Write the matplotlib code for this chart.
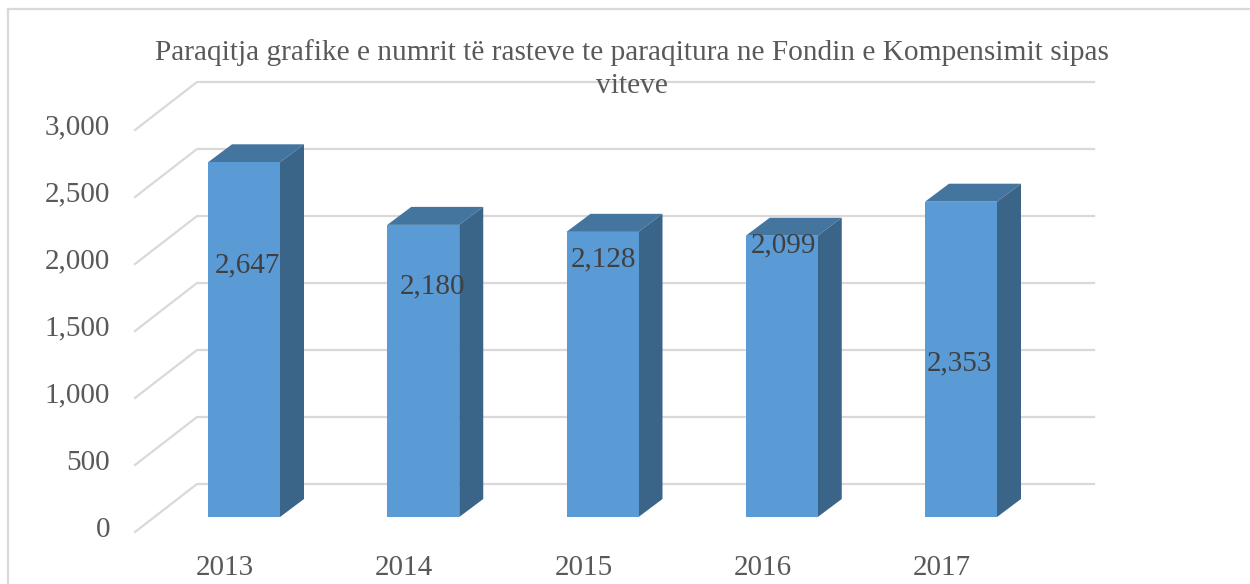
import matplotlib
matplotlib.use('Agg')
import matplotlib.pyplot as plt
from matplotlib.patches import Polygon

YEARS = ['2013', '2014', '2015', '2016', '2017']
CASES = [2647, 2180, 2128, 2099, 2353]
TICKS = [0, 500, 1000, 1500, 2000, 2500, 3000]
TICK_LABELS = ['0', '500', '1,000', '1,500', '2,000', '2,500', '3,000']
TITLE = 'Paraqitja grafike e numrit të rasteve te paraqitura ne Fondin e Kompensimit sipas\nviteve'

W, H = 1250, 584
GREY = '#d9d9d9'
TEXT = '#595959'
FRONT = '#5b9bd5'
TOP = '#44759f'
SIDE = '#3a6488'

# pixel layout of the fake 3d box
PX_LEFT, PX_RIGHT, PX_TOP, PX_BOTTOM = 135, 1094, 82, 532
PX_X0, PX_STEP = 244, 179.25
PX_Y0, PX_PER_VALUE = 517, 0.134
BAR_W = 72 / PX_STEP
DEPTH_X = 24 / PX_STEP
DEPTH_Y = 18 / PX_PER_VALUE
WALL_X = 62 / PX_STEP
FLOOR_FRONT = (PX_Y0 - 532) / PX_PER_VALUE
FLOOR_BACK = (PX_Y0 - 484) / PX_PER_VALUE

plt.rcParams['font.family'] = ['Liberation Serif', 'DejaVu Serif']

fig = plt.figure(figsize=(W / 100, H / 100), dpi=100)
ax = fig.add_axes([PX_LEFT / W, 1 - PX_BOTTOM / H, (PX_RIGHT - PX_LEFT) / W, (PX_BOTTOM - PX_TOP) / H])
ax.set_xlim((PX_LEFT - PX_X0) / PX_STEP, (PX_RIGHT - PX_X0) / PX_STEP)
ax.set_ylim(FLOOR_FRONT, (PX_Y0 - PX_TOP) / PX_PER_VALUE)
ax.patch.set_visible(False)
for s in ax.spines.values():
    s.set_visible(False)

x0 = ax.get_xlim()[0]
x1 = ax.get_xlim()[1]
for t in TICKS:
    ax.plot([x0, x0 + WALL_X, x1], [t + FLOOR_FRONT, t + FLOOR_BACK, t + FLOOR_BACK],
            color=GREY, lw=1.6, zorder=1, clip_on=False, solid_joinstyle='miter')

xs = list(range(len(YEARS)))
ax.bar(xs, CASES, width=BAR_W, color=FRONT, zorder=3)
for x, v in zip(xs, CASES):
    l = x - BAR_W / 2
    r = x + BAR_W / 2
    ax.add_patch(Polygon([(l, v), (r, v), (r + DEPTH_X, v + DEPTH_Y), (l + DEPTH_X, v + DEPTH_Y)],
                         closed=True, color=TOP, lw=0, zorder=2))
    ax.add_patch(Polygon([(r, 0), (r + DEPTH_X, DEPTH_Y), (r + DEPTH_X, v + DEPTH_Y), (r, v)],
                         closed=True, color=SIDE, lw=0, zorder=2))

# data labels were dragged around by hand in the original, offsets in px from bar top centre
label_dx = [3, 9, 1, 2, -2]
label_dy = [-103, -61, -28, -10, -162]
for x, v, dx, dy in zip(xs, CASES, label_dx, label_dy):
    ax.annotate(f'{v:,}', xy=(x, v), xytext=(dx * 0.72, dy * 0.72), textcoords='offset points',
                ha='center', va='center', fontsize=21, color='#404040', zorder=5)

ax.set_yticks([t + FLOOR_FRONT + 40 for t in TICKS], TICK_LABELS)
ax.set_xticks([x - 19 / PX_STEP for x in xs], YEARS)
ax.tick_params(axis='y', length=0, pad=18, labelsize=21, labelcolor=TEXT)
ax.tick_params(axis='x', length=0, pad=16.5, labelsize=21, labelcolor=TEXT)

fig.text(632 / W, 1 - 39 / H, TITLE, ha='center', va='top', fontsize=21.2, color=TEXT, linespacing=1.37)

# chart frame, only top and left show in the crop
fig.add_artist(plt.Line2D([8 / W, 8 / W], [0, 1 - 9 / H], color=GREY, lw=1.6))
fig.add_artist(plt.Line2D([8 / W, 1], [1 - 9 / H, 1 - 9 / H], color=GREY, lw=1.6))

fig.savefig('out.png', dpi=100)
